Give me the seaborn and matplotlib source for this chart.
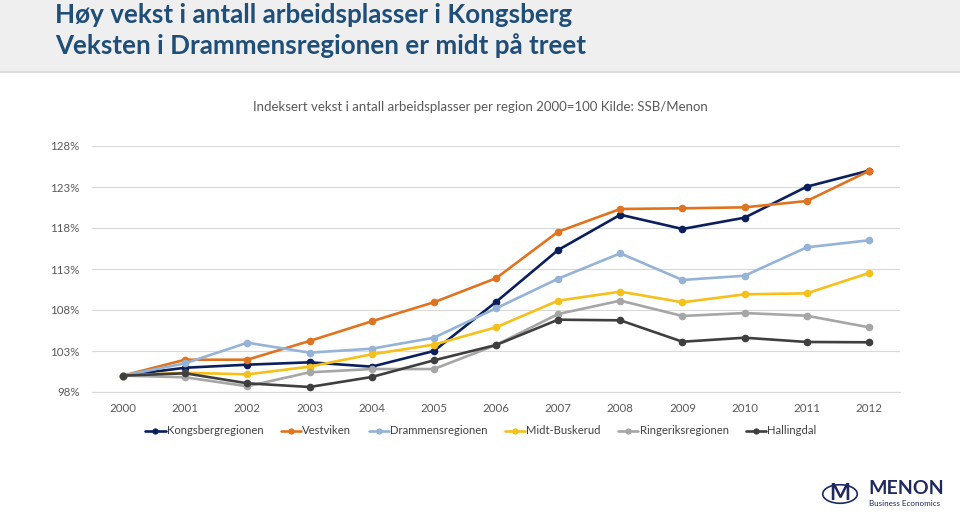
import matplotlib
matplotlib.use("Agg")
import matplotlib.pyplot as plt
import seaborn as sns
import pandas as pd
from matplotlib.patches import Rectangle
from matplotlib.lines import Line2D

years = ["2000", "2001", "2002", "2003", "2004", "2005", "2006",
         "2007", "2008", "2009", "2010", "2011", "2012"]
regions = ["Kongsbergregionen", "Vestviken", "Drammensregionen",
           "Midt-Buskerud", "Ringeriksregionen", "Hallingdal"]

kongsberg = [100.0, 100.96, 101.33, 101.62, 101.09, 103.0, 108.98,
             115.32, 119.62, 117.88, 119.26, 123.04, 125.0]
vestviken = [100.0, 101.94, 101.94, 104.22, 106.62, 108.94, 111.87,
             117.55, 120.32, 120.4, 120.52, 121.29, 124.95]
drammens = [100.0, 101.5, 104.01, 102.8, 103.28, 104.62, 108.2,
            111.82, 114.91, 111.66, 112.18, 115.64, 116.5]
midtbusk = [100.0, 100.35, 100.15, 101.09, 102.6, 103.77, 105.89,
            109.14, 110.24, 108.94, 109.91, 110.03, 112.51]
ringerike = [100.0, 99.79, 98.7, 100.4, 100.8, 100.8, 103.73,
             107.51, 109.14, 107.27, 107.63, 107.3, 105.89]
hallingdal = [100.0, 100.28, 99.06, 98.61, 99.83, 101.86, 103.73,
              106.82, 106.74, 104.13, 104.62, 104.1, 104.06]

yticks = [98, 103, 108, 113, 118, 123, 128]
colors = ["#0b1f5c", "#e0731f", "#95b3d7", "#f5c01a", "#a6a6a6", "#3f3f3f"]

series = [kongsberg, vestviken, drammens, midtbusk, ringerike, hallingdal]
rows = []
for reg, vals in zip(regions, series):
    for i, v in enumerate(vals):
        rows.append({"idx": i, "value": v, "region": reg})
df = pd.DataFrame(rows)

sns.set_theme(style="white")
plt.rcParams["font.family"] = ["Lato", "DejaVu Sans"]

fig = plt.figure(figsize=(9.6, 5.15), dpi=100)
fig.patch.set_facecolor("white")

# title band
fig.patches.append(Rectangle((0, 1 - 72 / 515), 1, 72 / 515, transform=fig.transFigure,
                             facecolor="#efefef", edgecolor="none", zorder=0))
fig.add_artist(Line2D([0, 1], [1 - 72 / 515, 1 - 72 / 515], transform=fig.transFigure,
                      color="#dcdcdc", lw=1.5))
fig.text(55 / 960, 1 - 15 / 515, "Høy vekst i antall arbeidsplasser i Kongsberg",
         fontsize=18.7, fontweight="bold", color="#1f4e79", va="center", ha="left")
fig.text(55 / 960, 1 - 46 / 515, "Veksten i Drammensregionen er midt på treet",
         fontsize=18.7, fontweight="bold", color="#1f4e79", va="center", ha="left")

fig.text(480 / 960, 1 - 107 / 515,
         "Indeksert vekst i antall arbeidsplasser per region 2000=100 Kilde: SSB/Menon",
         fontsize=9.5, color="#595959", ha="center", va="center")

ax = fig.add_axes([92 / 960, 1 - 392 / 515, 808 / 960, 246 / 515])
sns.lineplot(data=df, x="idx", y="value", hue="region", hue_order=regions,
             palette=colors, marker="o", markersize=5.5, markeredgewidth=0,
             linewidth=1.9, ax=ax, legend=False)

ax.set_xlim(-0.5, 12.5)
ax.set_ylim(98, 128)
ax.set_yticks(yticks)
ax.set_yticklabels([f"{t}%" for t in yticks])
ax.set_xticks(range(len(years)))
ax.set_xticklabels(years)
ax.grid(axis="y", color="#d9d9d9", lw=0.8)
ax.set_axisbelow(True)
for s in ["top", "right", "left"]:
    ax.spines[s].set_visible(False)
ax.spines["bottom"].set_color("#d9d9d9")
ax.spines["bottom"].set_linewidth(0.8)
ax.tick_params(axis="both", length=0, labelsize=8.3, labelcolor="#595959")
ax.tick_params(axis="y", pad=9)
ax.tick_params(axis="x", pad=8)
ax.set_xlabel("")
ax.set_ylabel("")

handles = [Line2D([0], [0], color=c, lw=1.9, marker="o", markersize=4.5,
                  markeredgewidth=0) for c in colors]
fig.legend(handles, regions, loc="center", bbox_to_anchor=(481 / 960, 1 - 431 / 515),
           ncol=6, frameon=False, fontsize=8.1, handlelength=1.8, handletextpad=0.1,
           columnspacing=1.55, labelcolor="#404040")

# logo
fig.text(868 / 960, 1 - 489 / 515, "MENON", fontsize=14, fontweight="bold",
         color="#1e2a5e", ha="left", va="center")
fig.text(869 / 960, 1 - 503 / 515, "Business Economics", fontsize=5.8,
         color="#1e2a5e", ha="left", va="center")
fig.text(840 / 960, 1 - 494 / 515, "M", fontsize=16, fontweight="bold",
         color="#1e2a5e", ha="center", va="center")
fig.patches.append(plt.Circle((840 / 960, 1 - 494 / 515), 0.018, transform=fig.transFigure,
                              fill=False, edgecolor="#1e2a5e", lw=1.2))

fig.savefig("out.png", dpi=100)
